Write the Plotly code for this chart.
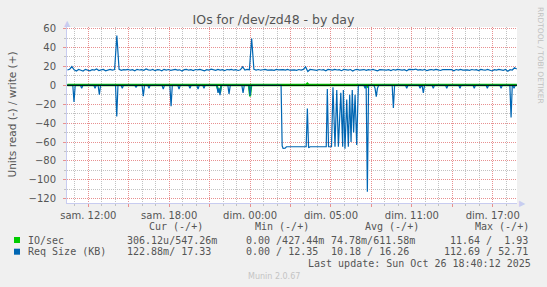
import plotly.graph_objects as go
import numpy as np

# ---------------- data ----------------
# time axis: hours of real (elapsed) time since Saturday 12:00 (DST change during the night)
tick_hours = [0, 3, 6, 9, 12, 15, 18, 21, 24, 27, 30]
tick_labels = ["sam. 12:00", "", "sam. 18:00", "", "dim. 00:00", "", "dim. 05:00", "", "dim. 11:00", "", "dim. 17:00"]

# Req Size (KB) write, sampled every 10 minutes starting at -1.55 h
write_start = -1.55
write_step = 1 / 6
req_write = [
    16.2, 17.0, 19.8, 16.4, 15.2, 16.8, 16.0, 15.1, 16.9, 16.3, 15.4, 16.6,
    16.1, 17.2, 15.6, 16.4, 16.8, 15.3, 16.5, 16.9, 16.2, 16.7, 52.7, 16.9,
    15.8, 16.6, 16.3, 16.8, 16.0, 16.5, 15.4, 16.9, 16.2, 16.6, 15.9, 17.4,
    16.3, 16.0, 16.8, 15.5, 16.6, 16.4, 15.3, 16.9, 16.2, 16.7, 15.8, 16.5,
    16.9, 16.1, 16.4, 15.2, 16.6, 16.8, 16.0, 16.5, 15.6, 16.7, 16.3, 16.9,
    16.0, 15.4, 16.6, 16.2, 17.1, 16.4, 15.9, 16.8, 16.1, 16.5, 15.5, 16.7,
    16.3, 16.9, 16.0, 16.6, 15.7, 16.4, 19.6, 16.2, 16.8, 16.5, 49.5, 16.9,
    16.2, 16.7, 16.0, 16.5, 16.8, 16.1, 16.6, 16.3, 15.8, 16.9, 16.4, 16.6,
    16.5, 16.1, 16.8, 16.0, 16.6, 16.4, 15.9, 16.7, 16.2, 16.9, 19.5, 14.6,
    16.8, 16.3, 16.6, 15.9, 16.7, 16.2, 16.5, 15.3, 16.8, 16.4, 16.1, 16.9,
    16.2, 16.6, 15.5, 16.8, 16.3, 16.0, 16.7, 15.2, 16.5, 16.9, 16.1, 16.4,
    16.7, 15.8, 16.5, 16.2, 16.9, 16.0, 15.4, 16.6, 16.3, 16.8, 16.1, 16.5,
    15.6, 16.7, 16.2, 16.9, 16.4, 16.0, 16.6, 15.3, 16.8, 16.3, 16.5, 17.2,
    16.1, 16.6, 16.0, 16.8, 15.5, 16.4, 16.7, 16.2, 16.9, 16.3, 15.7, 16.6,
    16.4, 16.8, 16.0, 16.5, 15.4, 16.7, 16.2, 16.9, 16.1, 16.6, 16.3, 15.8,
    16.7, 16.2, 16.5, 15.6, 16.9, 16.3, 16.0, 16.8, 16.4, 15.2, 16.6, 16.1,
    16.8, 16.3, 15.9, 16.7, 14.8, 16.5, 16.2, 18.6, 17.3,
]

# Req Size (KB) read (drawn negative): sample times (h) and values
req_read_t = [
    -1.55, -1.15, -1.06, -0.97, -0.58, -0.49, -0.40, 0.41, 0.50, 0.59, 0.73, 0.82, 0.91,
    2.02, 2.11, 2.20, 2.43, 2.52, 2.61, 3.45, 3.54, 3.63, 3.99, 4.08, 4.17, 4.41, 4.50, 4.59,
    5.47, 5.56, 5.65, 6.05, 6.14, 6.23, 6.64, 6.73, 6.82, 7.45, 7.54, 7.63, 8.05, 8.14, 8.23,
    8.49, 8.58, 8.67, 9.53, 9.62, 9.70, 9.77, 9.86, 10.35, 10.44, 10.53, 11.39, 11.48, 11.57,
    11.91, 12.00, 12.09,
    14.30, 14.38, 14.45, 14.60, 14.70, 16.16, 16.25, 16.34, 16.45, 17.65, 17.73, 17.82,
    18.04, 18.15, 18.30, 18.43, 18.55, 18.73, 18.87, 18.92, 19.04, 19.17, 19.29, 19.39,
    19.49, 19.58, 19.68, 19.79, 19.91, 20.03, 20.44, 20.53, 20.61, 20.70, 20.79,
    21.18, 21.27, 21.36, 21.45, 21.54, 22.54, 22.63, 22.72, 23.53, 23.62, 23.71,
    24.52, 24.61, 24.70, 24.76, 24.85, 24.94, 25.50, 25.59, 25.68, 26.50, 26.59, 26.68,
    27.48, 27.57, 27.66, 28.54, 28.63, 28.72, 29.51, 29.60, 29.69, 30.53, 30.62, 30.71,
    31.27, 31.36, 31.45, 31.49, 31.58, 31.67, 31.78,
]
req_read_v = [
    0, 0, 17.5, 0, 0, 3, 0, 0, 3, 0, 0, 10, 0,
    0, 33, 0, 0, 3, 0, 0, 2, 0, 0, 11.5, 0, 0, 3, 0,
    0, 4, 0, 0, 22, 0, 0, 4, 0, 0, 3, 0, 0, 4, 0,
    0, 3, 0, 0, 8, 3, 10.5, 0, 0, 9, 0, 0, 8, 0,
    0, 11, 0,
    0, 64, 66.7, 66.5, 65, 65, 24.6, 66, 65, 65, 4, 65,
    65, 2, 65, 5, 65, 8, 65, 5, 67, 15, 65, 10,
    60, 5, 50, 10, 63, 0, 0, 3, 0, 112.69, 0,
    0, 3, 12, 3, 0, 0, 24, 0, 0, 3, 0,
    0, 3, 0, 0, 8, 0, 0, 3, 0, 0, 3, 0,
    0, 3, 0, 0, 3, 0, 0, 3, 0, 0, 3, 0,
    0, 34, 0, 0, 3, 0, 0.12,
]

# IO/sec
io_write_t = [-1.55, 16.16, 16.25, 16.34, 31.78]
io_write_v = [0.6, 0.6, 1.93, 0.6, 0.55]
io_read_t = [-1.55, 9.53, 9.62, 9.77, 9.86, 11.91, 12.00, 12.09, 20.61, 20.70, 20.79, 31.78]
io_read_v = [0.05, 0.05, 4, 8, 0.05, 0.05, 11.64, 0.05, 0.05, 1.5, 0.05, 0.0003]

# legend table
legend_names = ["IO/sec", "Req Size (KB)"]
legend_colors = ["#00CC00", "#0066B3"]
cur_vals = ["306.12u/547.26m", "122.88m/ 17.33"]
min_vals = ["0.00 /427.44m", "0.00 / 12.35"]
avg_vals = ["74.78m/611.58m", "10.18 / 16.26"]
max_vals = ["11.64 /  1.93", "112.69 / 52.71"]
headers = ["Cur (-/+)", "Min (-/+)", "Avg (-/+)", "Max (-/+)"]
last_update = "Last update: Sun Oct 26 18:40:12 2025"

# ---------------- figure ----------------
W, H = 547, 287
ML, MR, MT, MB = 67, 30, 27, 84
PW, PH = W - ML - MR, H - MT - MB


def px(x):
    return (x - ML) / PW


def py(y):
    return (H - MB - y) / PH


write_t = write_start + np.arange(len(req_write)) * write_step

GREEN = "#00CC00"
BLUE = "#0066B3"

fig = go.Figure()
fig.add_trace(go.Scatter(x=io_read_t, y=[-v for v in io_read_v], mode="lines",
                         line=dict(color=GREEN, width=2), hoverinfo="skip"))
fig.add_trace(go.Scatter(x=io_write_t, y=io_write_v, mode="lines",
                         line=dict(color=GREEN, width=2), hoverinfo="skip"))
fig.add_trace(go.Scatter(x=req_read_t, y=[-v for v in req_read_v], mode="lines",
                         line=dict(color=BLUE, width=1.2), hoverinfo="skip"))
fig.add_trace(go.Scatter(x=write_t, y=req_write, mode="lines",
                         line=dict(color=BLUE, width=1.2), hoverinfo="skip"))

fig.add_hline(y=0, line=dict(color="black", width=1), layer="above")

MAJ = "#E89090"
MIN = "#C2C2C2"
AXC = "#C8CCF0"
TXT = "#555555"

fig.update_layout(
    width=W, height=H,
    margin=dict(l=ML, r=MR, t=MT, b=MB, pad=0),
    paper_bgcolor="#F0F0F0", plot_bgcolor="white",
    showlegend=False,
    font=dict(family="DejaVu Sans", size=10, color=TXT),
    title=dict(text="IOs for /dev/zd48 - by day", x=0.5, xanchor="center",
               y=1 - 20 / H, yanchor="middle", yref="container",
               font=dict(family="DejaVu Sans", size=12.5, color=TXT)),
    xaxis=dict(
        range=[-1.58, 31.80], tickmode="array", tickvals=tick_hours, ticktext=tick_labels,
        showgrid=True, gridcolor=MAJ, griddash="1px,1px", gridwidth=1,
        ticks="outside", ticklen=3, tickcolor=MAJ,
        minor=dict(tick0=0, dtick=1, showgrid=True, gridcolor=MIN, griddash="1px,1px",
                   ticks="outside", ticklen=2, tickcolor=MIN),
        showline=True, linecolor=AXC, linewidth=1, zeroline=False,
        tickfont=dict(size=10, color=TXT), fixedrange=True,
    ),
    yaxis=dict(
        range=[-124.5, 61.7], tick0=0, dtick=20,
        showgrid=True, gridcolor=MAJ, griddash="1px,1px", gridwidth=1,
        ticks="outside", ticklen=3, tickcolor=MAJ, ticklabelstandoff=5,
        minor=dict(tick0=0, dtick=10, showgrid=True, gridcolor=MIN, griddash="1px,1px",
                   ticks="outside", ticklen=2, tickcolor=MIN),
        showline=True, linecolor=AXC, linewidth=1, zeroline=False,
        tickfont=dict(size=10, color=TXT), fixedrange=True,
    ),
)

ann = []
# axis arrows
ann.append(dict(x=px(67), y=py(23), xref="paper", yref="paper", text="▲", showarrow=False,
                font=dict(size=8, color=AXC), xanchor="center", yanchor="middle"))
ann.append(dict(x=px(522), y=py(203), xref="paper", yref="paper", text="▶", showarrow=False,
                font=dict(size=8, color=AXC), xanchor="center", yanchor="middle"))
# y axis title
ann.append(dict(x=px(11), y=py(114.5), xref="paper", yref="paper", text="Units read (-) / write (+)",
                textangle=-90, showarrow=False, font=dict(size=10.5, color=TXT),
                xanchor="center", yanchor="middle"))
# rrdtool credit
ann.append(dict(x=px(540), y=py(55), xref="paper", yref="paper", text="RRDTOOL / TOBI OETIKER",
                textangle=90, showarrow=False, font=dict(size=7.5, color="#C0C0C0"),
                xanchor="center", yanchor="middle"))
# footer
ann.append(dict(x=px(273.5), y=py(276), xref="paper", yref="paper", text="Munin 2.0.67",
                showarrow=False, font=dict(size=8, color="#C4C4C4"),
                xanchor="center", yanchor="middle"))

MONO = dict(family="DejaVu Sans Mono", size=10, color=TXT)


def nb(s):
    return s.replace(" ", "\u00a0")


header_x = [147.3, 252.7, 362.7, 472.7]
for hx, htxt in zip(header_x, headers):
    ann.append(dict(x=px(hx), y=py(226.5), xref="paper", yref="paper", text=nb(htxt),
                    showarrow=False, font=MONO, xanchor="left", yanchor="middle"))

row_y = [240, 251.7]
col_x = [125, 244.3, 329.3]
max_x = [448.3, 442.3]
for i in range(2):
    ann.append(dict(x=px(26), y=py(row_y[i]), xref="paper", yref="paper", text=nb(legend_names[i]),
                    showarrow=False, font=MONO, xanchor="left", yanchor="middle"))
    for cx, vals in zip(col_x, [cur_vals, min_vals, avg_vals]):
        ann.append(dict(x=px(cx), y=py(row_y[i]), xref="paper", yref="paper", text=nb(vals[i]),
                        showarrow=False, font=MONO, xanchor="left", yanchor="middle"))
    ann.append(dict(x=px(max_x[i]), y=py(row_y[i]), xref="paper", yref="paper", text=nb(max_vals[i]),
                    showarrow=False, font=MONO, xanchor="left", yanchor="middle"))
    fig.add_shape(type="rect", xref="paper", yref="paper",
                  x0=px(14), x1=px(20), y0=py(row_y[i] + 3), y1=py(row_y[i] - 3),
                  fillcolor=legend_colors[i], line=dict(width=0))

ann.append(dict(x=px(533), y=py(263.3), xref="paper", yref="paper", text=nb(last_update),
                showarrow=False, font=MONO, xanchor="right", yanchor="middle"))

fig.update_layout(annotations=ann)
fig.write_html("out.html")
